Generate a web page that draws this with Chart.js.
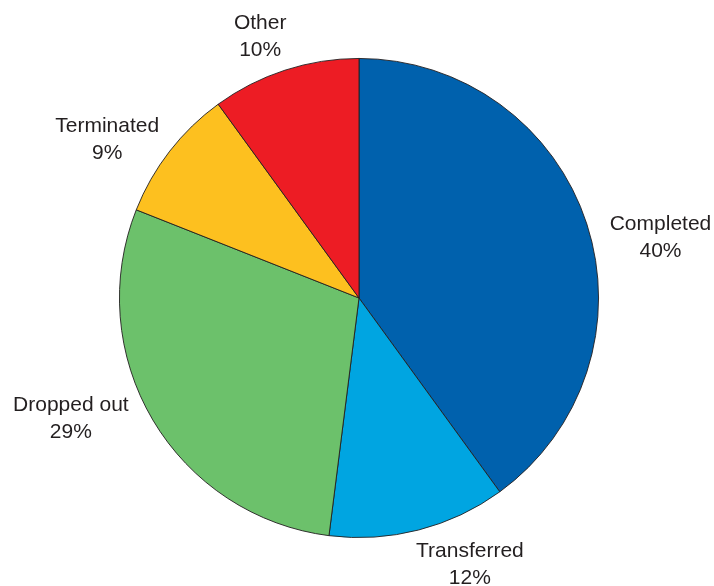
<!DOCTYPE html>
<html>
<head>
<meta charset="utf-8">
<script src="https://cdn.jsdelivr.net/npm/chart.js@4/dist/chart.umd.min.js"></script>
<style>
  html, body { margin: 0; padding: 0; background: #ffffff; }
  #wrap { width: 714px; height: 586px; position: relative; }
</style>
</head>
<body>
<div id="wrap"><canvas id="c" width="714" height="586"></canvas></div>
<script>
// ---- data ----
const categories = ["Completed", "Transferred", "Dropped out", "Terminated", "Other"];
const shares = [40, 12, 29, 9, 10];
const sliceColors = ["#0061AD", "#00A5E1", "#6CC16B", "#FDC01F", "#ED1C24"];

// label placement tweaks (radial gap beyond the rim, angular shift in degrees)
const labelGap = [68, 49, 73, 58, 40];
const labelShift = [6.6, -8.2, 7.8, -5.6, -2.7];

const outsideLabels = {
  id: 'outsideLabels',
  afterDatasetsDraw(chart) {
    const ctx = chart.ctx;
    const meta = chart.getDatasetMeta(0);
    const ds = chart.data.datasets[0];
    ctx.save();
    ctx.font = '21px "Liberation Sans", Arial, sans-serif';
    ctx.fillStyle = '#231F20';
    ctx.textAlign = 'center';
    ctx.textBaseline = 'middle';
    meta.data.forEach((arc, i) => {
      const p = arc.getProps(['x', 'y', 'startAngle', 'endAngle', 'outerRadius'], true);
      const mid = (p.startAngle + p.endAngle) / 2 + labelShift[i] * Math.PI / 180;
      const r = p.outerRadius + labelGap[i];
      const cx = p.x + Math.cos(mid) * r;
      const cy = p.y + Math.sin(mid) * r;
      ctx.fillText(chart.data.labels[i], cx, cy - 13.5);
      ctx.fillText(ds.data[i] + '%', cx, cy + 13.5);
    });
    ctx.restore();
  }
};

new Chart(document.getElementById('c'), {
  type: 'pie',
  data: {
    labels: categories,
    datasets: [{
      data: shares,
      backgroundColor: sliceColors,
      borderColor: '#231F20',
      borderWidth: 0.9
    }]
  },
  options: {
    responsive: false,
    animation: false,
    layout: { padding: { top: 58, bottom: 48, left: 119, right: 115 } },
    plugins: {
      legend: { display: false },
      tooltip: { enabled: false }
    }
  },
  plugins: [outsideLabels]
});
</script>
</body>
</html>
